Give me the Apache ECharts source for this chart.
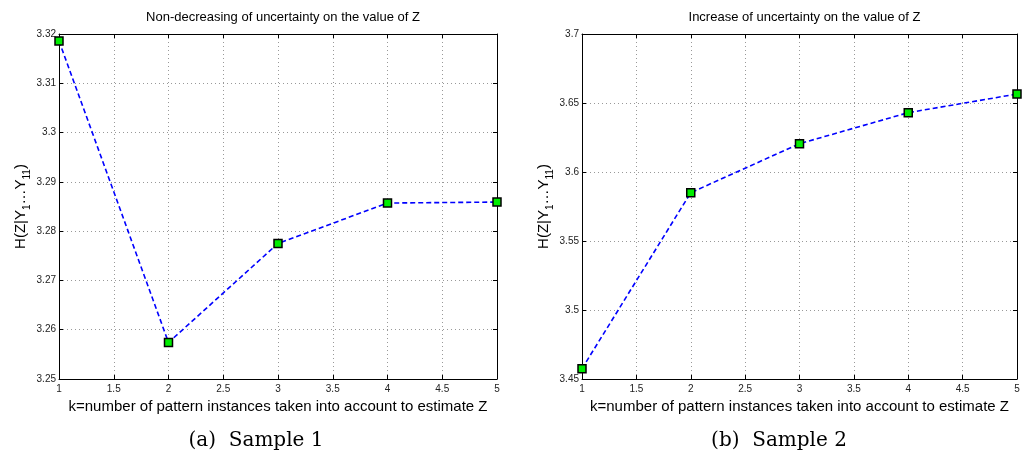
<!DOCTYPE html>
<html>
<head>
<meta charset="utf-8">
<script src="https://cdn.jsdelivr.net/npm/echarts@6/dist/echarts.min.js"></script>
<style>
html,body{margin:0;padding:0;background:#fff;}
#c{width:1025px;height:457px;}
</style>
</head>
<body>
<div id="c"></div>
<script>
const kValues = [1, 2, 3, 4, 5];
const sample1 = [3.3186, 3.2574, 3.2775, 3.2857, 3.2859];
const sample2 = [3.4575, 3.5850, 3.6205, 3.6430, 3.6565];
const titles = ['Non-decreasing of uncertainty on the value of Z', 'Increase of uncertainty on the value of Z'];
const captions = ['(a)  Sample 1', '(b)  Sample 2'];
const xName = 'k=number of pattern instances taken into account to estimate Z';
const yName = 'H(Z|Y{s|1}…Y{s|11})';
const yRanges = [[3.25, 3.32, 0.01], [3.45, 3.70, 0.05]];

const grids = [
  {left: 59, top: 34, width: 438, height: 345},
  {left: 582, top: 34, width: 435, height: 345}
];
const captionPos = [[256, 441], [779, 441]];

const chart = echarts.init(document.getElementById('c'), null, {renderer: 'canvas'});

const xAxes = [], yAxes = [], series = [], titleArr = [], graphics = [];
const tickFont = {fontFamily: 'Liberation Sans', fontSize: 10, color: '#222'};

[sample1, sample2].forEach((data, i) => {
  const g = grids[i];
  const [ymin, ymax, ystep] = yRanges[i];
  xAxes.push({
    type: 'value', gridIndex: i, min: 1, max: 5, interval: 0.5,
    name: xName, nameLocation: 'middle', nameGap: 17,
    nameTextStyle: {fontFamily: 'Liberation Sans', fontSize: 15, color: '#000'},
    axisLine: {lineStyle: {color: '#000', width: 1}},
    axisTick: {inside: true, length: 4, lineStyle: {color: '#000'}},
    axisLabel: Object.assign({margin: 5, formatter: v => String(v)}, tickFont),
    splitLine: {show: true, lineStyle: {type: [1, 3], color: '#999', width: 1}}
  });
  xAxes.push({
    type: 'value', gridIndex: i, min: 1, max: 5, interval: 0.5, position: 'top',
    axisLine: {lineStyle: {color: '#000', width: 1}},
    axisTick: {inside: true, length: 4, lineStyle: {color: '#000'}},
    axisLabel: {show: false}, splitLine: {show: false}
  });
  yAxes.push({
    type: 'value', gridIndex: i, min: ymin, max: ymax, interval: ystep,
    name: yName, nameLocation: 'middle', nameGap: 27, nameRotate: 90,
    nameTextStyle: {
      fontFamily: 'Liberation Sans', fontSize: 15, color: '#000', lineHeight: 22,
      rich: {s: {fontFamily: 'Liberation Sans', fontSize: 10, lineHeight: 10, verticalAlign: 'bottom', color: '#000'}}
    },
    axisLine: {lineStyle: {color: '#000', width: 1}},
    axisTick: {inside: true, length: 4, lineStyle: {color: '#000'}},
    axisLabel: Object.assign({margin: 3, formatter: v => String(parseFloat(v.toFixed(2)))}, tickFont),
    splitLine: {show: true, lineStyle: {type: [1, 3], color: '#999', width: 1}}
  });
  yAxes.push({
    type: 'value', gridIndex: i, min: ymin, max: ymax, interval: ystep, position: 'right',
    axisLine: {lineStyle: {color: '#000', width: 1}},
    axisTick: {inside: true, length: 4, lineStyle: {color: '#000'}},
    axisLabel: {show: false}, splitLine: {show: false}
  });
  series.push({
    type: 'line', xAxisIndex: i * 2, yAxisIndex: i * 2,
    data: kValues.map((k, j) => [k, data[j]]),
    symbol: 'rect', symbolSize: 8,
    itemStyle: {color: '#00ee00', borderColor: '#000', borderWidth: 1.5},
    lineStyle: {color: '#0000ff', width: 1.6, type: [5, 3]},
    clip: false, animation: false
  });
  titleArr.push({
    text: titles[i], left: g.left + g.width / 2, top: 6, textAlign: 'center',
    textStyle: {fontFamily: 'Liberation Sans', fontSize: 13, fontWeight: 'normal', color: '#000'}
  });
  graphics.push({
    type: 'text',
    style: {
      text: captions[i], x: captionPos[i][0], y: captionPos[i][1],
      font: '20px "DejaVu Serif"', fill: '#000', textAlign: 'center', textVerticalAlign: 'middle'
    }
  });
});

chart.setOption({
  animation: false,
  backgroundColor: '#fff',
  title: titleArr,
  grid: grids.map(g => Object.assign({show: false}, g)),
  xAxis: xAxes,
  yAxis: yAxes,
  series: series,
  graphic: graphics
});
</script>
</body>
</html>
